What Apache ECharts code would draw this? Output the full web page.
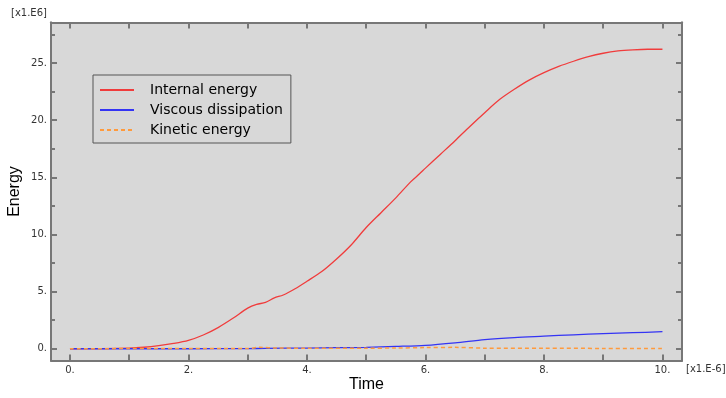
<!DOCTYPE html>
<html>
<head>
<meta charset="utf-8">
<script src="https://cdn.jsdelivr.net/npm/echarts@6/dist/echarts.min.js"></script>
<style>
  html, body { margin: 0; padding: 0; background: #fff; }
  #chart { width: 726px; height: 398px; }
</style>
</head>
<body>
<div id="chart"></div>
<script>
// values (time in 1e-6, energy in 1e6)
const internalTime = [0, 0.5, 1.0, 1.25, 1.5, 1.75, 2.0, 2.25, 2.5, 2.75, 3.0, 3.15, 3.3, 3.45, 3.6, 3.8, 4.0, 4.25, 4.5, 4.75, 5.0, 5.25, 5.5, 5.75, 5.9, 6.0, 6.25, 6.5, 6.75, 7.0, 7.25, 7.5, 7.75, 8.0, 8.25, 8.5, 8.75, 9.0, 9.25, 9.5, 9.75, 10.0];
const internalEnergy = [0, 0.01, 0.05, 0.13, 0.27, 0.46, 0.73, 1.2, 1.85, 2.66, 3.55, 3.88, 4.05, 4.45, 4.7, 5.25, 5.9, 6.75, 7.85, 9.1, 10.6, 11.9, 13.2, 14.6, 15.3, 15.8, 17.0, 18.2, 19.45, 20.65, 21.8, 22.7, 23.5, 24.15, 24.7, 25.15, 25.55, 25.85, 26.05, 26.15, 26.2, 26.2];

const viscousTime = [0, 1, 2, 3, 3.3, 4, 4.5, 5, 5.5, 6, 6.5, 7, 7.5, 8, 8.5, 9, 9.5, 10];
const viscousDissipation = [0, 0, 0, 0.01, 0.03, 0.06, 0.09, 0.12, 0.2, 0.3, 0.52, 0.8, 0.98, 1.1, 1.22, 1.32, 1.4, 1.49];

const kineticTime = [0, 1, 2, 3, 3.2, 3.5, 4, 5, 5.5, 6, 6.5, 7, 8, 9, 10];
const kineticEnergy = [0, 0.01, 0.01, 0.02, 0.12, 0.06, 0.05, 0.05, 0.06, 0.1, 0.12, 0.05, 0.04, 0.03, 0.03];

const xTickValues = [0, 1, 2, 3, 4, 5, 6, 7, 8, 9, 10];
const xLabelValues = [0, 2, 4, 6, 8, 10];
const yMajorValues = [0, 5, 10, 15, 20, 25];
const yMinorValues = [2.5, 7.5, 12.5, 17.5, 22.5, 27.5];

const X_MIN = -0.32, X_MAX = 10.33;
const Y_MIN = -1.03, Y_MAX = 28.54;

const frame = { color: "#777", width: 2 };
const labelStyle = { color: "#333", fontFamily: "DejaVu Sans", fontSize: 10 };

function pairs(xs, ys) {
  return xs.map((x, i) => [x, ys[i]]);
}

function xAxisDef(position, withLabels) {
  return {
    type: "value",
    position: position,
    min: X_MIN,
    max: X_MAX,
    axisLine: { show: true, onZero: false, lineStyle: frame },
    axisTick: { show: true, inside: true, length: 6, customValues: xTickValues, lineStyle: frame },
    axisLabel: withLabels
      ? { show: true, customValues: xLabelValues, formatter: (v) => v + ".", margin: 5, ...labelStyle }
      : { show: false },
    splitLine: { show: false },
  };
}

function yAxisDef(position, ticks, len, withLabels) {
  return {
    type: "value",
    position: position,
    min: Y_MIN,
    max: Y_MAX,
    axisLine: { show: true, onZero: false, lineStyle: frame },
    axisTick: { show: true, inside: true, length: len, customValues: ticks, lineStyle: frame },
    axisLabel: withLabels
      ? { show: true, customValues: yMajorValues, formatter: (v) => v + ".", margin: 4, ...labelStyle }
      : { show: false },
    splitLine: { show: false },
  };
}

const chart = echarts.init(document.getElementById("chart"));

const xBottom = xAxisDef("bottom", true);
xBottom.name = "Time";
xBottom.nameLocation = "middle";
xBottom.nameGap = 16;
xBottom.nameMoveOverlap = false;
xBottom.nameTextStyle = { color: "#000", fontFamily: "Liberation Sans", fontSize: 16, verticalAlign: "top" };

const yLeft = yAxisDef("left", yMajorValues, 6, true);
yLeft.name = "Energy";
yLeft.nameLocation = "middle";
yLeft.nameGap = 28;
yLeft.nameMoveOverlap = false;
yLeft.nameTextStyle = { color: "#000", fontFamily: "Liberation Sans", fontSize: 16 };

chart.setOption({
  animation: false,
  backgroundColor: "#fff",
  grid: {
    left: 51, right: 44, top: 22.5, bottom: 37.5,
    outerBoundsMode: "none",
    containLabel: false,
    show: true, backgroundColor: "#d8d8d8", borderWidth: 0,
  },
  legend: {
    orient: "vertical",
    left: 93,
    top: 75,
    padding: [8, 8, 6, 6],
    itemWidth: 34,
    itemHeight: 14,
    itemGap: 6,
    itemStyle: { opacity: 0 },
    borderColor: "#555",
    borderWidth: 1,
    backgroundColor: "#d8d8d8",
    textStyle: { color: "#000", fontFamily: "DejaVu Sans", fontSize: 14, padding: [0, 0, 0, 11] },
    data: ["Internal energy", "Viscous dissipation", "Kinetic energy"],
  },
  graphic: [
    { type: "text", left: 11, top: 8, style: { text: "[x1.E6]", fill: "#333", font: "10px 'DejaVu Sans'" } },
    { type: "text", left: 686, top: 364, style: { text: "[x1.E-6]", fill: "#333", font: "10px 'DejaVu Sans'" } },
  ],
  xAxis: [xBottom, xAxisDef("top", false)],
  yAxis: [
    yLeft,
    yAxisDef("left", yMinorValues, 4, false),
    yAxisDef("right", yMajorValues, 6, false),
    yAxisDef("right", yMinorValues, 4, false),
  ],
  series: [
    {
      name: "Internal energy",
      type: "line",
      symbol: "none",
      smooth: 0.3,
      data: pairs(internalTime, internalEnergy),
      lineStyle: { color: "#f03c3c", width: 1.3 },
      itemStyle: { color: "#f03c3c" },
    },
    {
      name: "Viscous dissipation",
      type: "line",
      symbol: "none",
      smooth: 0.3,
      data: pairs(viscousTime, viscousDissipation),
      lineStyle: { color: "#3434f4", width: 1.3 },
      itemStyle: { color: "#3434f4" },
    },
    {
      name: "Kinetic energy",
      type: "line",
      symbol: "none",
      smooth: 0.3,
      data: pairs(kineticTime, kineticEnergy),
      lineStyle: { color: "#ff9a3c", width: 1.5, type: [4, 3] },
      itemStyle: { color: "#ff9a3c" },
    },
  ],
});
</script>
</body>
</html>
